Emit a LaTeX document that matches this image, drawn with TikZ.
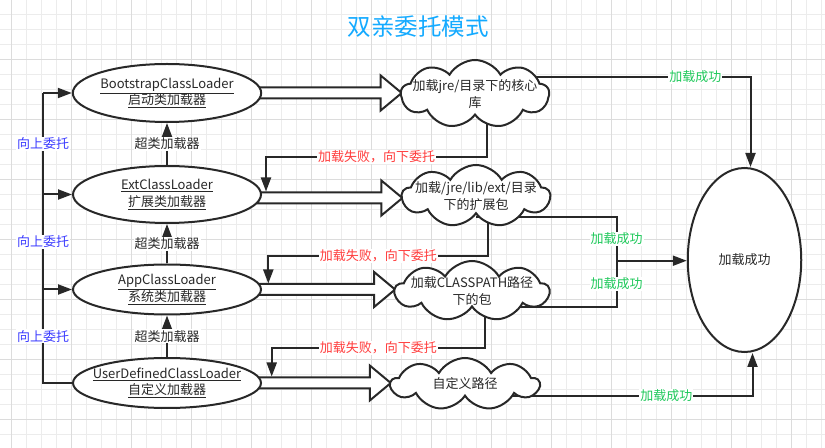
\documentclass[tikz,border=0pt]{standalone}
\usepackage{fontspec}
\setmainfont{Noto Sans CJK SC}
\usetikzlibrary{shapes.geometric,shapes.symbols,arrows.meta,calc}
\pgfdeclarelayer{grid}
\pgfdeclarelayer{edges}
\pgfsetlayers{grid,edges,main}

\definecolor{inkcol}{RGB}{40,40,40}
\definecolor{titlecol}{RGB}{20,170,255}
\definecolor{upcol}{RGB}{60,60,255}
\definecolor{failcol}{RGB}{255,60,60}
\definecolor{okcol}{RGB}{30,200,90}
\definecolor{gridminor}{RGB}{236,236,236}
\definecolor{gridmajor}{RGB}{220,220,220}

\tikzset{
  txt/.style={font=\fontsize{13bp}{16.5bp}\selectfont},
  loader/.style={ellipse,draw=inkcol,fill=white,line width=2bp,inner sep=0pt,
    minimum width=188bp,align=center,txt,text=inkcol},
  store/.style={cloud,cloud puffs=9,cloud puff arc=120,cloud ignores aspect,
    draw=inkcol,fill=white,line width=2bp,inner sep=0pt},
  storetext/.style={align=center,txt,text=inkcol},
  hollow/.style={draw=inkcol,fill=white,line width=2bp},
  wire/.style={draw=inkcol,line width=2bp},
  superlabel/.style={fill=white,inner sep=1bp,txt,text=inkcol},
  uplabel/.style={fill=white,inner sep=1bp,txt,text=upcol},
  faillabel/.style={fill=white,inner sep=1bp,txt,text=failcol},
  oklabel/.style={fill=white,inner sep=1bp,txt,text=okcol},
}

% #1 loader, #2 cloud, #3 vertical shift of the arrow
\newcommand{\hollowarrow}[3]{%
  \draw[hollow] ($(#1.east)+(-4bp,#3+5.5bp)$)
    -- ($(#2.west |- #1.east)+(-19bp,#3+5.5bp)$)
    -- ($(#2.west |- #1.east)+(-19bp,#3+17.5bp)$)
    -- ($(#2.west |- #1.east)+(2bp,#3)$)
    -- ($(#2.west |- #1.east)+(-19bp,#3-17.5bp)$)
    -- ($(#2.west |- #1.east)+(-19bp,#3-5.5bp)$)
    -- ($(#1.east)+(-4bp,#3-5.5bp)$) -- cycle;}

\begin{document}
\begin{tikzpicture}[>={Triangle[length=14bp,width=10bp]},line join=miter,]
  \pgfsetlinewidth{2bp}
  \useasboundingbox (0,0) rectangle (825bp,448bp);
%%
\begin{pgfonlayer}{grid}
  \fill[white] (0,0) rectangle (825bp,448bp);
  \begin{scope}[shift={(11.7bp,13bp)}]
    \draw[gridminor,line width=1bp,step=15bp] (-11.7bp,-13bp) grid (813.3bp,435bp);
  \end{scope}
  \begin{scope}[shift={(11.7bp,28bp)}]
    \draw[gridmajor,line width=1bp,step=60bp] (-11.7bp,-28bp) grid (813.3bp,420bp);
  \end{scope}
\end{pgfonlayer}
  % Node: title
  \node[text=titlecol,font=\fontsize{23.5bp}{28bp}\selectfont] (title) at (418bp,421bp) {双亲委托模式};
  % Node: boot
\begin{scope}
  \node[loader,minimum height=58bp] (boot) at (167bp,355bp)
    {\underline{BootstrapClassLoader}\\\underline{启动类加载器}};
\end{scope}
  % Node: ext
\begin{scope}
  \node[loader,minimum height=57bp] (ext) at (167bp,253.5bp)
    {\underline{ExtClassLoader}\\\underline{扩展类加载器}};
\end{scope}
  % Node: app
\begin{scope}
  \node[loader,minimum height=50bp] (app) at (167bp,158.5bp)
    {\underline{AppClassLoader}\\\underline{系统类加载器}};
\end{scope}
  % Node: user
\begin{scope}
  \node[loader,minimum height=50bp,inner xsep=-8bp] (user) at (167bp,65bp)
    {\underline{UserDefinedClassLoader}\\\underline{自定义加载器}};
\end{scope}
  % Node: c1 .. c4
\begin{scope}
  \node[store,minimum width=148bp,minimum height=68bp] (c1) at (475bp,354bp) {};
  \node[storetext] (t1) at (c1) {加载jre/目录下的核心\\库};
  \node[store,minimum width=148bp,minimum height=62bp] (c2) at (476bp,252bp) {};
  \node[storetext] (t2) at (c2) {加载/jre/lib/ext/目录\\下的扩展包};
  \node[store,minimum width=154bp,minimum height=60bp] (c3) at (472bp,157bp) {};
  \node[storetext] (t3) at (c3) {加载CLASSPATH路径\\下的包};
  \node[store,minimum width=148bp,minimum height=52bp] (c4) at (465bp,64bp) {};
  \node[storetext] (t4) at (c4) {自定义路径};
\end{scope}
  % Node: done
  \node[loader,minimum width=113.5bp,minimum height=184bp] (done) at (744.5bp,188bp) {加载成功};
%
\begin{pgfonlayer}{edges}
  \coordinate (bus) at (43bp,0bp);
  \coordinate (turn1) at (266bp,291.3bp);
  \coordinate (drop1) at (266bp,256.5bp);
  \coordinate (turn2) at (268.3bp,192.3bp);
  \coordinate (drop2) at (268.3bp,164.5bp);
  \coordinate (turn3) at (271.7bp,100.3bp);
  \coordinate (drop3) at (271.7bp,71.5bp);
  \coordinate (join) at (616.7bp,187.3bp);
  % Edge: user -> app -> ext -> boot
  \draw[wire] (user.west) -| node[pos=0.75,uplabel] {向上委托} (app.west -| bus)
    -- node[uplabel] {向上委托} (ext.west -| bus)
    -- node[uplabel] {向上委托} (boot.west -| bus);
  \draw[wire,->] (boot.west -| bus) -- (boot.west);
  \draw[wire,->] (ext.west -| bus) -- (ext.west);
  \draw[wire,->] (app.west -| bus) -- (app.west);
  % Edge: superclass
  \draw[wire,->] (user.north) -- node[superlabel] {超类加载器} (app.south);
  \draw[wire,->] (app.north) -- node[superlabel] {超类加载器} (ext.south);
  \draw[wire,->] (ext.north) -- node[superlabel] {超类加载器} (boot.south);
  % Edge: loader -> cloud
  \hollowarrow{boot}{c1}{0bp}
  \hollowarrow{ext}{c2}{-3.5bp}
  \hollowarrow{app}{c3}{0bp}
  \hollowarrow{user}{c4}{0bp}
  % Edge: cloud -> next loader
  \draw[wire,->] ($(c1.center)+(12bp,0)$) |- node[pos=0.75,faillabel] {加载失败，向下委托} (turn1) -- (drop1);
  \draw[wire,->] ($(c2.center)+(12.3bp,0)$) |- node[pos=0.75,faillabel] {加载失败，向下委托} (turn2) -- (drop2);
  \draw[wire,->] ($(c3.center)+(13bp,0)$) |- node[pos=0.75,faillabel] {加载失败，向下委托} (turn3) -- (drop3);
  % Edge: cloud -> done
  \draw[wire,->] ($(c1.center)+(0,17.3bp)$) -| node[pos=0.4,oklabel] {加载成功} ($(done.north)+(6bp,0)$);
  \draw[wire] ($(c2.center)+(0,-20.7bp)$) -| node[pos=0.75,oklabel] {加载成功} (join);
  \draw[wire] ($(c3.center)+(0,-15.7bp)$) -| node[pos=0.75,oklabel] {加载成功} (join);
  \draw[wire,->] (join) -- (join -| done.west);
  \draw[wire,->] ($(c4.center)+(0,-11.7bp)$) -| node[pos=0.35,oklabel] {加载成功} ($(done.south)+(8bp,0)$);
\end{pgfonlayer}
%
\end{tikzpicture}
\end{document}
